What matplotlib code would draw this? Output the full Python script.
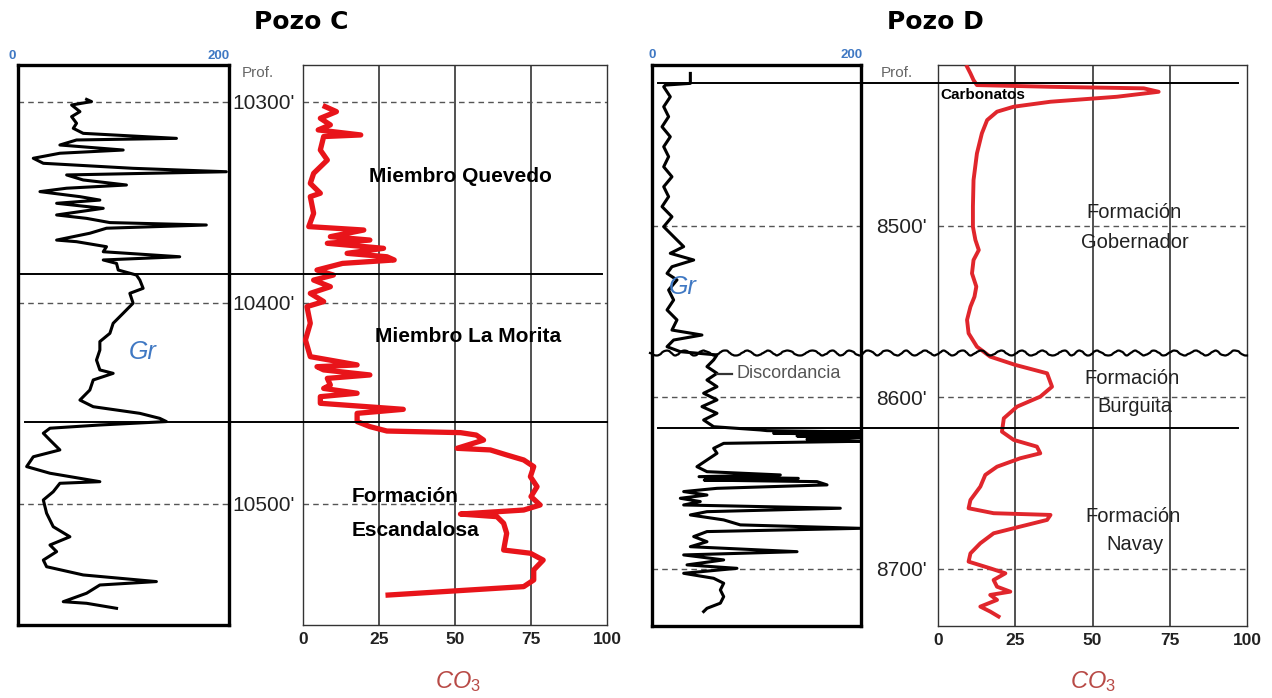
import matplotlib
matplotlib.use('Agg')
import matplotlib.pyplot as plt
from matplotlib import transforms
from matplotlib.lines import Line2D

plt.rcParams['font.family'] = ['Liberation Sans', 'DejaVu Sans']
plt.rcParams['mathtext.fontset'] = 'custom'
plt.rcParams['mathtext.it'] = 'Liberation Sans:italic'
plt.rcParams['mathtext.rm'] = 'Liberation Sans'

W, H = 1272, 698

# ---- Pozo C ----
c_marks = [10300, 10400, 10500]
c_tops = [10385.6, 10459.2]
c_depth_range = (10560.2, 10281.6)

c_gr_depth = [10298.7, 10299.8, 10301.5, 10304.8, 10307.3, 10310.6, 10313.1, 10315.6, 10318.1, 10318.9,
              10321.4, 10323.9, 10325.5, 10328.0, 10330.5, 10333.0, 10334.7, 10336.3, 10338.8, 10341.3,
              10342.9, 10344.6, 10347.1, 10348.8, 10350.4, 10352.9, 10356.2, 10357.9, 10360.0, 10361.2,
              10362.8, 10365.3, 10368.7, 10369.5, 10372.0, 10374.5, 10377.0, 10378.6, 10380.3, 10383.6,
              10386.1, 10388.6, 10392.7, 10395.2, 10400.1, 10405.1, 10410.1, 10415.1, 10419.2, 10423.4,
              10428.4, 10433.3, 10435.0, 10438.3, 10443.3, 10448.3, 10451.6, 10454.9, 10457.4, 10459.0,
              10460.7, 10462.3, 10464.8, 10468.2, 10473.1, 10476.5, 10481.4, 10484.7, 10488.9, 10489.7,
              10493.9, 10498.0, 10504.6, 10511.3, 10516.3, 10520.4, 10523.7, 10527.9, 10531.2, 10535.3,
              10538.6, 10540.3, 10544.4, 10548.6, 10549.4, 10551.9]
c_gr_api = [65.0, 69.7, 50.8, 58.7, 50.8, 55.5, 52.4, 61.8, 150.2, 55.5,
            39.7, 99.7, 39.7, 14.5, 24.0, 109.1, 197.5, 46.1, 61.8, 102.8,
            46.1, 20.8, 58.7, 77.6, 36.6, 80.8, 36.6, 65.0, 87.1, 178.5,
            83.9, 68.1, 36.6, 55.5, 83.9, 80.8, 153.3, 80.8, 93.4, 95.0,
            112.3, 115.5, 118.6, 106.0, 109.1, 99.7, 90.2, 87.1, 77.6, 77.6,
            74.4, 77.6, 90.2, 71.3, 68.1, 58.7, 71.3, 115.5, 134.4, 140.7,
            77.6, 30.3, 24.0, 30.3, 39.7, 14.5, 8.2, 30.3, 77.6, 39.7,
            33.4, 24.0, 27.1, 33.4, 49.2, 30.3, 36.6, 24.0, 27.1, 61.8,
            131.2, 77.6, 65.0, 42.9, 65.0, 93.4]

c_co3_depth = [10302.3, 10304.8, 10308.1, 10311.4, 10313.9, 10316.4, 10317.2, 10323.9, 10328.9, 10335.5,
               10340.5, 10345.4, 10347.1, 10355.4, 10362.0, 10363.7, 10367.0, 10368.7, 10370.3, 10372.8,
               10375.3, 10377.0, 10378.6, 10380.3, 10383.6, 10386.1, 10388.6, 10391.9, 10395.2, 10399.3,
               10401.8, 10410.1, 10418.4, 10426.7, 10430.8, 10431.7, 10433.3, 10435.8, 10437.5, 10440.8,
               10442.5, 10444.9, 10446.6, 10449.9, 10452.9, 10454.9, 10459.0, 10461.5, 10463.7, 10464.5,
               10465.7, 10468.2, 10472.3, 10473.1, 10475.6, 10478.1, 10481.4, 10486.4, 10491.4, 10496.3,
               10500.5, 10503.0, 10505.0, 10506.3, 10509.6, 10514.6, 10522.9, 10524.5, 10527.9, 10532.8,
               10537.8, 10541.1, 10545.3]
c_co3_pct = [7.3, 11.0, 5.7, 9.0, 5.0, 19.0, 6.8, 5.7, 8.0, 3.5,
             2.4, 5.7, 2.4, 3.5, 1.9, 20.0, 9.0, 22.0, 8.0, 26.5,
             14.5, 27.6, 30.0, 13.0, 4.6, 10.0, 3.5, 9.0, 2.4, 6.8,
             1.3, 2.4, 0.8, 2.4, 17.8, 4.6, 6.8, 22.0, 8.0, 9.0,
             6.8, 17.8, 5.7, 5.7, 33.0, 17.8, 17.8, 22.0, 27.6, 51.8,
             57.0, 59.4, 50.7, 61.6, 67.0, 72.6, 75.9, 74.8, 77.0, 75.0,
             78.0, 72.6, 51.8, 63.8, 66.0, 67.0, 66.0, 74.8, 79.0, 75.9,
             75.9, 72.6, 28.0]

# ---- Pozo D ----
d_marks = [8500, 8600, 8700]
d_tops = [8417.2, 8618.1]
d_unconformity = 8574.3
d_depth_range = (8733.3, 8406.5)

d_gr_depth = [8411.4, 8417.2, 8418.2, 8419.2, 8425.0, 8430.8, 8436.6, 8442.5, 8448.3, 8454.1,
              8459.9, 8465.8, 8471.6, 8477.4, 8483.2, 8489.0, 8494.9, 8500.7, 8506.5, 8512.3,
              8516.2, 8520.1, 8524.0, 8527.9, 8531.7, 8537.6, 8543.4, 8549.2, 8555.0, 8560.9,
              8563.8, 8566.7, 8570.6, 8573.5, 8575.4, 8578.3, 8582.2, 8586.1, 8590.0, 8593.9,
              8597.7, 8601.6, 8605.5, 8609.4, 8613.3, 8617.2, 8619.1, 8619.5, 8620.3, 8621.0,
              8621.8, 8622.6, 8623.4, 8624.5, 8625.7, 8626.9, 8629.8, 8632.7, 8636.6, 8640.5,
              8643.4, 8645.3, 8646.3, 8647.3, 8648.3, 8649.2, 8651.1, 8653.1, 8655.0, 8657.0,
              8658.9, 8660.8, 8662.8, 8664.7, 8666.7, 8668.6, 8671.5, 8674.4, 8676.4, 8678.3,
              8681.2, 8684.2, 8687.1, 8690.0, 8691.9, 8694.8, 8697.7, 8699.7, 8702.6, 8705.5,
              8708.4, 8712.3, 8716.2, 8720.0, 8723.0, 8724.9]
d_gr_api = [36.7, 36.7, 12.8, 11.2, 17.5, 11.2, 15.9, 9.6, 17.5, 11.2,
            15.9, 11.2, 19.1, 11.2, 15.9, 9.6, 19.1, 11.2, 20.7, 30.3,
            17.5, 39.9, 19.1, 14.4, 23.9, 15.9, 20.7, 14.4, 23.9, 19.1,
            47.8, 20.7, 14.4, 27.1, 62.2, 59.0, 52.6, 62.2, 52.6, 62.2,
            49.4, 62.2, 47.8, 62.2, 49.4, 59.0, 103.7, 110.0, 199.4, 116.4,
            199.4, 138.8, 199.4, 148.3, 199.4, 68.6, 59.0, 62.2, 52.6, 43.0,
            52.6, 122.8, 45.0, 140.0, 50.0, 157.9, 167.5, 62.2, 30.3, 52.6,
            27.1, 46.2, 30.3, 180.2, 52.6, 36.7, 68.6, 84.5, 199.4, 52.6,
            39.9, 52.6, 36.7, 138.8, 30.3, 68.6, 33.5, 81.3, 30.3, 59.0,
            68.6, 65.4, 68.6, 65.4, 52.6, 49.4]

d_co3_depth = [8407.5, 8411.4, 8415.3, 8418.2, 8419.2, 8420.1, 8422.1, 8425.0, 8427.9, 8430.8,
               8433.7, 8438.6, 8446.3, 8458.0, 8473.5, 8489.0, 8500.7, 8508.4, 8514.3, 8520.1,
               8527.9, 8535.6, 8541.5, 8547.3, 8555.0, 8562.8, 8570.6, 8576.4, 8581.2, 8586.1,
               8593.9, 8599.7, 8605.5, 8612.3, 8620.1, 8624.9, 8628.8, 8632.7, 8635.6, 8640.5,
               8645.3, 8652.1, 8659.9, 8664.7, 8667.6, 8668.6, 8671.5, 8675.4, 8679.3, 8685.1,
               8691.0, 8695.8, 8699.7, 8702.6, 8706.5, 8710.4, 8713.3, 8715.2, 8718.1, 8722.0,
               8724.9, 8727.8]
d_co3_pct = [9.4, 10.5, 11.5, 12.6, 36.4, 66.6, 71.4, 57.9, 36.4, 24.5,
             19.1, 15.9, 14.2, 12.6, 11.5, 11.3, 11.3, 12.1, 13.2, 11.5,
             11.0, 12.4, 11.8, 10.5, 9.4, 9.9, 12.6, 16.9, 25.0, 35.3,
             36.9, 33.1, 25.6, 21.3, 20.7, 24.5, 32.0, 33.1, 26.6, 19.1,
             15.3, 13.7, 10.5, 9.9, 18.0, 36.4, 35.3, 26.6, 18.0, 13.7,
             10.5, 9.9, 16.9, 21.8, 18.0, 19.1, 23.4, 16.9, 19.1, 13.7,
             16.9, 19.6]

co3_ticks = [0, 25, 50, 75, 100]

BLUE = '#3f78c3'
CO3_RED = '#b84a46'

fig = plt.figure(figsize=(W / 100, H / 100), dpi=100)


def add_box(x0, y0, x1, y1):
    # axes placed by pixel box (origin top-left)
    return fig.add_axes([x0 / W, 1 - y1 / H, (x1 - x0) / W, (y1 - y0) / H])


def ftext(x, y, s, **kw):
    return fig.text(x / W, 1 - y / H, s, **kw)


def depth_line(ax, depth, x0, x1, **kw):
    # x in figure pixels, y in depth of ax
    tr = transforms.blended_transform_factory(fig.transFigure, ax.transData)
    ln = Line2D([x0 / W, x1 / W], [depth, depth], transform=tr, **kw)
    fig.add_artist(ln)
    return ln


def setup_gr(ax, depth_range, marks):
    ax.set_xlim(0, 200)
    ax.set_ylim(*depth_range)
    ax.set_xticks([])
    ax.set_yticks([])
    for sp in ax.spines.values():
        sp.set_linewidth(2.4)
        sp.set_color('black')
    for m in marks:
        ax.axhline(m, color='#555555', lw=1, ls=(0, (4, 3)), zorder=1)


def setup_co3(ax, depth_range, marks, pad):
    ax.set_xlim(0, 100)
    ax.set_ylim(*depth_range)
    ax.set_xticks(co3_ticks)
    ax.set_xticklabels([str(t) for t in co3_ticks], fontsize=12.5, fontweight='bold', color='#222222')
    ax.set_yticks(marks)
    ax.set_yticklabels([f"{m}'" for m in marks], fontsize=15, color='#222222')
    ax.tick_params(axis='x', length=0, pad=5)
    ax.tick_params(axis='y', length=0, pad=pad)
    for sp in ax.spines.values():
        sp.set_linewidth(1.0)
        sp.set_color('#333333')
    for v in co3_ticks[1:-1]:
        ax.axvline(v, color='#222222', lw=1.1, zorder=1)
    for m in marks:
        ax.axhline(m, color='#555555', lw=1, ls=(0, (4, 3)), zorder=1)


# ---------------- Pozo C ----------------
c_gr = add_box(18, 65, 229, 625)
c_co3 = add_box(303, 65, 607, 625)
setup_gr(c_gr, c_depth_range, c_marks)
setup_co3(c_co3, c_depth_range, c_marks, pad=6)

c_gr.plot(c_gr_api, c_gr_depth, color='black', lw=2.2, zorder=3)
c_co3.plot(c_co3_pct, c_co3_depth, color='#e8141a', lw=3.8, zorder=3, solid_joinstyle='round')

depth_line(c_co3, c_tops[0], 20, 602, color='black', lw=1.4)
depth_line(c_co3, c_tops[1], 25, 607, color='black', lw=1.4)

ftext(301, 22, 'Pozo C', fontsize=18, fontweight='bold', family='DejaVu Sans', ha='center', va='center')
ftext(12, 56, '0', fontsize=9.5, fontweight='bold', color=BLUE, ha='center', va='center')
ftext(219, 56, '200', fontsize=9.5, fontweight='bold', color=BLUE, ha='center', va='center')
ftext(258, 73, 'Prof.', fontsize=11, color='#666666', ha='center', va='center')
ftext(143, 352, 'Gr', fontsize=18, style='italic', color=BLUE, ha='center', va='center')
ftext(460, 177, 'Miembro Quevedo', fontsize=15, fontweight='bold', ha='center', va='center')
ftext(468, 337, 'Miembro La Morita', fontsize=15, fontweight='bold', ha='center', va='center')
ftext(352, 497, 'Formación', fontsize=15, fontweight='bold', ha='left', va='center')
ftext(352, 530, 'Escandalosa', fontsize=15, fontweight='bold', ha='left', va='center')
ftext(458, 682, r'$\mathit{CO}_3$', fontsize=17, color=CO3_RED, ha='center', va='center')

# ---------------- Pozo D ----------------
d_gr = add_box(652, 65, 861, 626)
d_co3 = add_box(938, 65, 1247, 626)
setup_gr(d_gr, d_depth_range, d_marks)
setup_co3(d_co3, d_depth_range, d_marks, pad=8)

d_gr.plot(d_gr_api, d_gr_depth, color='black', lw=2.2, zorder=3)
d_co3.plot(d_co3_pct, d_co3_depth, color='#e0262c', lw=2.8, zorder=3, solid_joinstyle='round')

depth_line(d_co3, d_tops[0], 658, 1238, color='black', lw=1.4)
depth_line(d_co3, d_tops[1], 658, 1238, color='black', lw=1.4)
wavy = depth_line(d_co3, d_unconformity, 650, 1247, color='black', lw=1.6)
wavy.set_sketch_params(scale=2.5, length=22, randomness=2)

# discordance pointer
depth_line(d_co3, 8586.5, 717, 732, color='#333333', lw=1.6)
ftext(737, 374, 'Discordancia', fontsize=13, color='#555555', ha='left', va='center')

ftext(935, 22, 'Pozo D', fontsize=18, fontweight='bold', family='DejaVu Sans', ha='center', va='center')
ftext(652, 55, '0', fontsize=9.5, fontweight='bold', color=BLUE, ha='center', va='center')
ftext(852, 55, '200', fontsize=9.5, fontweight='bold', color=BLUE, ha='center', va='center')
ftext(897, 73, 'Prof.', fontsize=11, color='#666666', ha='center', va='center')
ftext(683, 287, 'Gr', fontsize=18, style='italic', color=BLUE, ha='center', va='center')
ftext(940, 95, 'Carbonatos', fontsize=11, fontweight='bold', ha='left', va='center')
ftext(1134, 213, 'Formación', fontsize=14.5, color='#222222', ha='center', va='center')
ftext(1135, 242, 'Gobernador', fontsize=14.5, color='#222222', ha='center', va='center')
ftext(1132, 378, 'Formación', fontsize=14.5, color='#222222', ha='center', va='center')
ftext(1135, 407, 'Burguita', fontsize=14.5, color='#222222', ha='center', va='center')
ftext(1133, 517, 'Formación', fontsize=14.5, color='#222222', ha='center', va='center')
ftext(1135, 545, 'Navay', fontsize=14.5, color='#222222', ha='center', va='center')
ftext(1093, 682, r'$\mathit{CO}_3$', fontsize=17, color=CO3_RED, ha='center', va='center')

fig.savefig('out.png', dpi=100)
